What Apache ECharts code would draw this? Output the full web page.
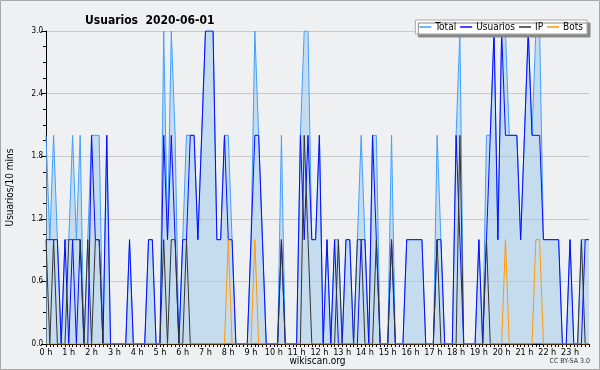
<!DOCTYPE html>
<html>
<head>
<meta charset="utf-8">
<script src="https://cdn.jsdelivr.net/npm/echarts@6/dist/echarts.min.js"></script>
<style>
  html, body { margin: 0; padding: 0; background: #fff; }
  #chart { width: 600px; height: 370px; }
</style>
</head>
<body>
<div id="chart"></div>
<script>
// one value every 10 minutes, one row per hour
const total = [
  2,1,2,1,0,1,  1,2,1,2,0,1,  2,2,2,0,2,0,  0,0,0,0,1,0,
  0,0,0,1,1,0,  0,3,1,3,2,0,  1,2,2,2,1,2,  3,3,3,1,1,2,
  2,1,0,0,0,0,  1,3,2,1,0,0,  0,0,2,0,0,0,  0,2,3,3,1,1,
  2,0,1,0,1,1,  0,1,1,0,1,2,  1,0,2,2,0,0,  0,2,0,0,0,1,
  1,1,1,1,0,0,  0,2,1,0,0,0,  2,3,0,0,0,0,  1,0,2,2,3,1,
  3,3,2,2,2,1,  2,3,2,3,3,1,  1,1,1,1,0,0,  1,0,0,1,1,1
];
const usuarios = [
  1,1,1,1,0,1,  0,1,0,1,0,0,  2,1,1,0,2,0,  0,0,0,0,1,0,
  0,0,0,1,1,0,  0,2,1,2,1,0,  1,1,2,2,1,2,  3,3,3,1,1,2,
  1,1,0,0,0,0,  1,2,2,1,0,0,  0,0,1,0,0,0,  0,2,1,2,1,1,
  2,0,1,0,1,0,  0,1,1,0,0,1,  1,0,2,1,0,0,  0,1,0,0,0,1,
  1,1,1,1,0,0,  0,1,1,0,0,0,  2,1,0,0,0,0,  1,0,1,2,3,1,
  3,2,2,2,2,1,  2,3,2,2,2,1,  1,1,1,1,0,0,  1,0,0,0,1,1
];
const ip = [
  1,0,1,0,0,0,  1,1,1,1,0,1,  0,1,1,0,0,0,  0,0,0,0,0,0,
  0,0,0,0,0,0,  0,1,0,1,1,0,  0,1,0,0,0,0,  0,0,0,0,0,0,
  0,0,0,0,0,0,  0,0,0,0,0,0,  0,0,1,0,0,0,  0,0,2,1,0,0,
  0,0,0,0,0,1,  0,0,0,0,1,1,  0,0,0,1,0,0,  0,1,0,0,0,0,
  0,0,0,0,0,0,  0,1,0,0,0,0,  0,2,0,0,0,0,  0,0,1,0,0,0,
  0,0,0,0,0,0,  0,0,0,0,0,0,  0,0,0,0,0,0,  0,0,0,1,0,0
];
const bots = [
  0,0,0,0,0,0,  0,0,0,0,0,0,  0,0,0,0,0,0,  0,0,0,0,0,0,
  0,0,0,0,0,0,  0,0,0,0,0,0,  0,0,0,0,0,0,  0,0,0,0,0,0,
  1,0,0,0,0,0,  0,1,0,0,0,0,  0,0,0,0,0,0,  0,0,0,0,0,0,
  0,0,0,0,0,0,  0,0,0,0,0,0,  0,0,0,0,0,0,  0,0,0,0,0,0,
  0,0,0,0,0,0,  0,0,0,0,0,0,  0,0,0,0,0,0,  0,0,0,0,0,0,
  0,1,0,0,0,0,  0,0,0,1,1,0,  0,0,0,0,0,0,  0,0,0,0,0,0
];

// categories: 00:00 .. 23:50
const slots = [];
for (let h = 0; h < 24; h++) {
  for (let m = 0; m < 60; m += 10) {
    slots.push(h + ':' + String(m).padStart(2, '0'));
  }
}

const FONT = '"DejaVu Sans Condensed", "DejaVu Sans", sans-serif';
const chart = echarts.init(document.getElementById('chart'));

const lineSeries = (name, data, color, extra) => Object.assign({
  name: name,
  type: 'line',
  data: data,
  symbol: 'none',
  lineStyle: { color: color, width: 1 },
  itemStyle: { color: color },
  animation: false
}, extra || {});

chart.setOption({
  backgroundColor: '#eff0f1',
  textStyle: { fontFamily: FONT },
  title: {
    text: 'Usuarios  2020-06-01',
    left: 80,
    top: 10,
    textStyle: { fontFamily: FONT, fontSize: 12, fontWeight: 'bold', color: '#000' }
  },
  legend: {
    right: 13,
    top: 20,
    backgroundColor: '#fff',
    borderColor: '#aaa',
    borderWidth: 1,
    padding: [2, 4, 2, 4],
    shadowColor: '#888',
    shadowBlur: 0,
    shadowOffsetX: 3,
    shadowOffsetY: 3,
    itemGap: 4,
    itemWidth: 12,
    itemHeight: 1.5,
    icon: 'rect',
    textStyle: { fontFamily: FONT, fontSize: 10, color: '#000', padding: [0, 0, 0, -1] },
    data: ['Total', 'Usuarios', 'IP', 'Bots']
  },
  grid: { left: 46, right: 11, top: 31, bottom: 26, outerBoundsMode: 'none' },
  xAxis: {
    type: 'category',
    data: slots,
    boundaryGap: false,
    name: 'wikiscan.org',
    nameLocation: 'middle',
    nameGap: 12,
    nameMoveOverlap: false,
    nameTextStyle: { fontFamily: FONT, fontSize: 10, color: '#000', verticalAlign: 'top' },
    axisLine: { lineStyle: { color: '#000', width: 1 } },
    axisTick: { interval: 0, length: 3, lineStyle: { color: '#000' } },
    axisLabel: {
      interval: 5,
      margin: 4,
      fontFamily: FONT,
      fontSize: 9,
      color: '#000',
      formatter: (v) => v.split(':')[0] + ' h'
    },
    splitLine: { show: false }
  },
  yAxis: {
    type: 'value',
    min: 0,
    max: 3,
    interval: 0.6,
    name: 'Usuarios/10 mins',
    nameLocation: 'middle',
    nameGap: 31,
    nameRotate: 90,
    nameMoveOverlap: false,
    nameTextStyle: { fontFamily: FONT, fontSize: 10, color: '#000' },
    axisLine: { show: true, lineStyle: { color: '#000', width: 1 } },
    axisTick: { show: true, length: 5, lineStyle: { color: '#000' } },
    minorTick: { show: true, splitNumber: 4, length: 3, lineStyle: { color: '#000' } },
    axisLabel: {
      margin: 3,
      fontFamily: FONT,
      fontSize: 8,
      color: '#000',
      formatter: (v) => v.toFixed(1)
    },
    splitLine: { lineStyle: { color: '#c8c8c8', width: 1 } }
  },
  graphic: [
    {
      type: 'rect',
      shape: { x: 0.5, y: 0.5, width: 599, height: 369 },
      style: { fill: 'none', stroke: '#a8a8a8', lineWidth: 1 },
      silent: true
    },
    {
      type: 'text',
      right: 10,
      top: 358,
      style: { text: 'CC BY-SA 3.0', fontFamily: FONT, fontSize: 7, fill: '#333' }
    }
  ],
  series: [
    lineSeries('Total', total, '#3fa0ff', {
      areaStyle: { color: 'rgba(169,207,239,0.6)', opacity: 1 }
    }),
    lineSeries('Usuarios', usuarios, '#0a0aff'),
    lineSeries('IP', ip, '#333333'),
    lineSeries('Bots', bots, '#ff9900')
  ]
});
</script>
</body>
</html>
